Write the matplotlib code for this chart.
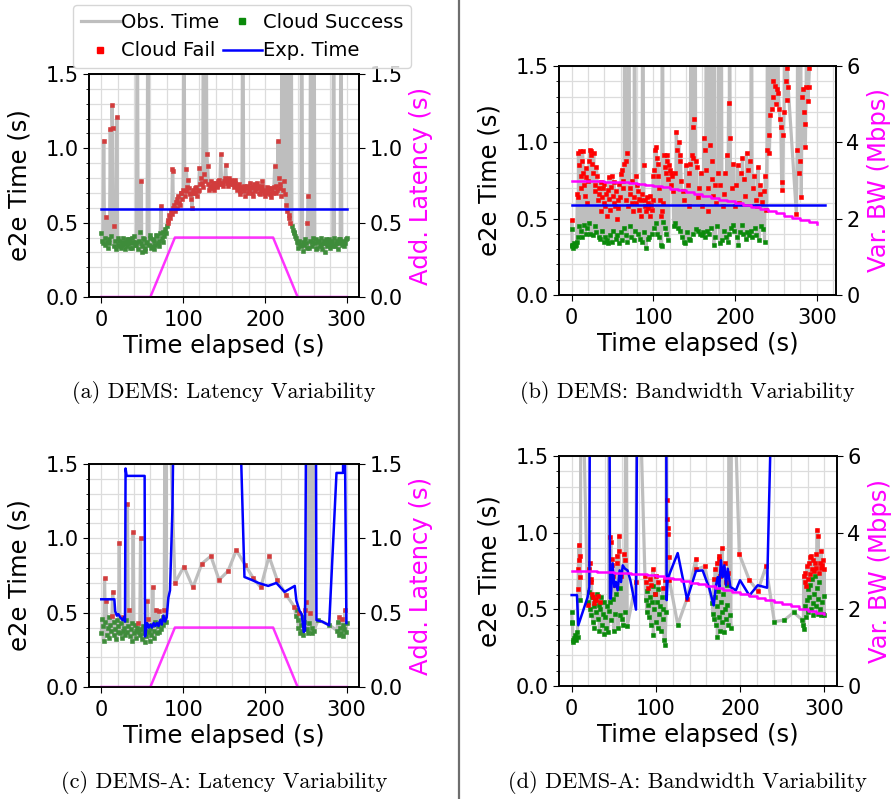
import matplotlib
matplotlib.use('Agg')
import matplotlib.pyplot as plt
from matplotlib.lines import Line2D
from matplotlib.ticker import MultipleLocator, FormatStrFormatter

# ---------------- data ----------------
# (a) DEMS latency variability: (time, e2e) for cloud success / cloud fail (2.5 = off-scale)
a_ok = [(0,.43),(1,.38),(2,.36),(4,.40),(5,.35),(7,.37),(8,.33),(9,.39),(10,.36),(12,.41),(15,.34),(17,.38),(18,.32),(20,.35),(21,.40),(22,.38),(23,.34),(24,.33),(25,.37),(26,.40),(27,.35),(28,.36),(29,.32),(30,.37),(31,.39),(32,.34),(33,.36),(34,.39),(35,.33),(36,.36),(37,.40),(38,.33),(39,.37),(40,.41),(41,.35),(42,.37),(43,.35),(45,.32),(46,.38),(47,.44),(48,.36),(49.5,.30),(50,.34),(51,.40),(52,.39),(53,.33),(54,.31),(55,.36),(56,.37),(58,.35),(59,.42),(60,.40),(61,.33),(62,.34),(63,.39),(64,.38),(65,.32),(66,.35),(67,.42),(68,.41),(69,.36),(70,.38),(71,.34),(72,.43),(74,.40),(75,.37),(76,.44),(77,.41),(78,.46),(79,.43),(80,.48),
        (233,.48),(234,.45),(235,.43),(236,.44),(237,.41),(238,.40),(239,.37),(240,.36),(241,.33),(242,.38),(243,.35),(244,.34),(246,.37),(247,.31),(248,.35),(249,.39),(250,.36),(251,.33),(254,.33),(255,.38),(257,.37),(258,.34),(259,.40),(261,.36),(262,.39),(263,.32),(264,.33),(265,.38),(266,.37),(267,.34),(268,.35),(269,.40),(270,.32),(271,.36),(272,.38),(273,.30),(274,.36),(275,.39),(276,.34),(277,.37),(278,.39),(279,.33),(280,.35),(281,.38),(282,.37),(283,.34),(285,.40),(286,.34),(287,.36),(288,.38),(289,.32),(290,.36),(291,.39),(292,.39),(294,.35),(295,.37),(296,.38),(297,.34),(298,.36),(299,.39),(300,.40)]
a_fail = [(3,1.05),(6,.54),(11,1.13),(13,1.29),(14,1.14),(16,.48),(19,1.21),(44,2.5),(49,.78),(57,2.5),(73,.61),(81,.52),(82,.50),(83,.55),(84,.53),(85,.58),(86,.56),(87,.86),(87.5,.85),(88,.60),(89,.62),(90,.58),(91,.64),(92,.60),(93,.66),(94,.68),(95,.63),(96,.62),(97,.70),(98,.70),(99,.66),(100,.72),(101,2.5),(102,.68),(103,.71),(104,.86),(105,.74),(106,.79),(107,.73),(108,.70),(109,.69),(110,.66),(111,.60),(112,.72),(113,.70),(114,.70),(115,.73),(116,.74),(117,.68),(118,.71),(119,.72),(120,.87),(121,.76),(122,.80),(123,.77),(124,.74),(125,2.5),(126,.83),(127,.78),(128,2.5),(129,.96),(130,.88),(131,.76),(132,.72),(133,.75),(134,.78),(135,.73),(136,.75),(137,.77),(138,.72),(139,.76),(140,.77),(141,.75),(142,.74),(143,.78),(144,.79),(145,.76),(146,.96),(147,.77),(148,.76),(149,.75),(150,.78),(151,.80),(152,.89),(153,.79),(154,.77),(155,.75),(156,.80),(157,.78),(158,.76),(159,.79),(160,.78),(161,.76),(162,.74),(163,.77),(164,.79),(165,.75),(166,.72),(167,.74),(168,.76),(169,.71),(170,.69),(171,.73),(172,.74),(173,2.5),(174,.71),(175,.75),(176,.68),(177,.73),(178,.75),(179,.70),(180,.72),(181,.74),(182,.77),(183,.73),(184,.70),(185,.68),(186,.74),(187,.76),(188,.71),(189,.73),(190,.77),(191,.75),(192,.73),(193,.70),(194,.69),(195,.72),(196,.75),(197,.78),(198,.72),(199,.70),(200,.68),(201,.71),(202,.74),(203,.70),(204,.71),(205,.73),(206,.69),(207,.67),(208,.73),(209,.71),(210,.70),(211,.74),(212,.88),(213,.75),(214,.70),(215,.72),(216,1.05),(217,.80),(218,.73),(219,.76),(220,.68),(221,2.5),(222,.72),(223,.78),(224,2.5),(225,.69),(226,.62),(227,.58),(228,2.5),(229,.55),(230,.53),(231,.50),(232,2.5),(245,2.5),(252,.50),(253,.68),(256,2.5),(260,2.5),(284,2.5),(293,2.5)]
a_exp = [(0,.59),(300,.59)]

# (b) DEMS bandwidth variability
b_ok = [(0,.43),(0.5,.32),(1,.33),(1.5,.31),(2,.33),(3,.34),(4,.32),(5,.33),(6,.35),(8,.38),(9,.45),(11,.42),(13,.38),(15,.46),(17,.40),(19,.44),(21,.47),(23,.40),(26,.39),(28,.45),(30,.41),(33,.38),(35,.37),(37,.42),(39,.35),(41,.38),(43,.36),(45,.34),(47,.39),(49,.35),(51,.42),(54,.37),(56,.39),(58,.34),(60,.41),(62,.36),(64,.44),(66,.39),(68,.35),(71,.45),(73,.38),(76,.36),(78,.42),(81,.40),(84,.37),(86,.35),(89,.41),(91,.31),(93,.37),(95,.38),(98,.40),(101,.44),(103,.47),(105,.40),(107,.38),(109,.33),(110,.32),(112,.48),(114,.44),(116,.40),(118,.36),(125,.45),(127,.47),(130,.44),(132,.42),(135,.38),(137,.35),(139,.34),(141,.41),(143,.37),(145,.36),(148,.40),(152,.43),(155,.42),(157,.40),(159,.39),(161,.41),(163,.38),(166,.42),(168,.40),(171,.44),(174,.33),(176,.38),(178,.45),(181,.34),(184,.36),(187,.42),(189,.38),(191,.35),(193,.40),(195,.44),(197,.46),(199,.42),(202,.38),(204,.33),(206,.41),(208,.46),(210,.40),(213,.37),(215,.41),(217,.39),(219,.42),(221,.38),(224,.44),(226,.39),(229,.36),(232,.45),(234,.43),(236,.35)]
b_fail = [(0.2,.49),(7,.66),(7.5,.64),(8.3,.93),(9.3,.85),(10,.94),(11.3,.78),(12,.70),(12.5,.88),(13.3,.94),(14,.80),(15.3,.72),(16,.65),(17.3,.83),(18,.77),(19.3,.60),(20,.75),(21.3,.88),(22,.95),(23.3,.92),(24,.94),(25,.86),(26.3,.80),(27,.93),(28.3,.72),(29,.68),(30.3,.84),(31,.78),(32,.62),(33.3,.70),(34,.66),(35.3,.74),(36,.55),(37.3,.64),(38,.70),(39.3,.60),(40,.73),(41.3,.58),(42,.66),(43.3,.52),(44,.69),(45.3,.77),(46,.63),(47.3,.56),(48,.71),(49.3,.78),(50,.65),(51.3,.60),(52,.74),(53,.58),(54.3,.68),(55,.50),(56.3,.62),(57,.57),(58.3,.73),(59,.64),(60.3,.79),(61,.82),(62.3,.70),(63,.75),(64.3,.86),(65,2.5),(66,.62),(67,.88),(68,.93),(69,.58),(70,2.5),(71.3,.66),(72,.70),(73.3,.60),(74,.75),(75,.55),(76.3,.64),(77,2.5),(78.3,.78),(79,.60),(80,.72),(81.3,.68),(82,.56),(83,.63),(84.3,.62),(85,.52),(86.3,.66),(87,2.5),(88,.85),(89.3,.58),(90,.62),(91.3,.55),(92,.64),(93.3,.60),(94,.57),(95.3,.52),(96,.65),(97,.59),(98.3,.56),(99,.62),(100,.78),(101.3,.82),(102,.95),(103.3,.97),(104,.90),(105.3,.86),(106,.78),(107.3,.70),(108,.62),(109.3,.52),(110.3,.55),(111,2.5),(112.3,.60),(113,.92),(114.3,.84),(115,.80),(116.3,.92),(117,.88),(118.3,.76),(119,.85),(120,.82),(121,.80),(122,.72),(123,.78),(124,.68),(126,.80),(128,1.07),(129,.95),(131,1.00),(132.3,.88),(133,.92),(134,.75),(136,.68),(138,.62),(140,.85),(142,.72),(143.3,.58),(144,.80),(145.3,.86),(146,2.5),(147,.92),(148.3,1.10),(149,.90),(150,1.15),(151,2.5),(152.3,.88),(153,.84),(154,.64),(156,.70),(158,.80),(160,.58),(162,1.03),(163.3,.95),(164,.82),(165,2.5),(166.3,.70),(167,.55),(169,.98),(170,2.5),(171.3,.88),(172,.76),(173,.65),(174.3,2.5),(175,.72),(177,.60),(179,.80),(180,2.5),(182,.72),(183,2.5),(185,.58),(186,.66),(188,.80),(190,.92),(192,1.26),(193,2.5),(194,1.03),(196,.70),(198,.86),(200,.58),(201,.72),(203,.85),(205,.60),(207,.80),(209,.90),(211,.76),(212,.65),(214,.93),(216,.82),(218,.88),(220,2.5),(222,.70),(223,.78),(225,.62),(227,.58),(228,.84),(230,.66),(231,.72),(233,.61),(235,.68),
          (237,.78),(238,.56),(239,.95),(240,2.5),(241,1.05),(242,.93),(243,1.18),(244,2.5),(245,1.22),(246,1.40),(247,1.30),(248,2.5),(249,1.37),(250,1.25),(251,1.35),(252,2.5),(253,1.32),(254,1.22),(255,1.15),(256,1.10),(257,.74),(258,.69),(259,1.05),(260,1.20),(261,2.5),(262,1.40),(263,1.28),(264,1.49),(265,1.36),
          (275,.53),(276,.95),(277,2.5),(278,.80),(279,.88),(280,2.5),(281,.64),(282,1.30),(283,1.35),(284,1.20),(285,1.12),(286,.97),(287,1.36),(288,2.5),(289,1.27),(290,1.36),(291,1.49)]
b_exp = [(0,.59),(310,.59)]

# (c) DEMS-A latency variability
c_ok = [(0,.36),(1,.46),(2,.41),(3,.31),(5,.44),(7,.35),(8,.40),(9,.47),(10,.33),(11,.42),(12,.38),(15,.35),(16,.44),(17,.39),(18,.32),(19,.45),(20,.37),(21,.41),(23,.36),(24,.43),(25,.33),(27,.38),(28,.40),(29,.35),(30,.45),(31,.37),(33,.41),(35,.34),(36,.39),(37,.43),(38,.31),(40,.36),(41,.42),(42,.38),(43,.33),(44,.40),(46,.37),(47,.35),(49,.39),(50,.32),(51,.41),(52,.36),(53,.30),(54,.38),(55,.34),(58,.37),(59,.31),(60,.40),(61,.35),(62,.42),(64,.38),(65,.33),(66,.44),(68,.36),(69,.41),(71,.37),(72,.43),(73,.39),(74,.45),(75,.42),(76,.47),(79,.44),
        (238,.48),(239,.52),(240,.45),(241,.40),(243,.36),(244,.42),(245,.38),(246,.47),(247,.35),(248,.44),(251,.39),(253,.36),(254,.43),(257,.40),(258,.36),(260,.38),(265,.45),(278,.42),
        (288,.38),(289,.44),(290,.35),(292,.40),(293,.36),(295,.42),(296,.34),(297,.39),(299,.37),(300,.43)]
c_fail = [(4,.73),(6,.58),(13,.48),(14,.64),(22,.97),(26,.47),(32,1.23),(34,.52),(39,1.04),(45,.43),(48,1.00),(56,.58),(57,.46),(63,.67),(67,.52),(70,.51),(77,.52),(78,2.5),(80,2.5),
          (90,.70),(101,.81),(112,.67),(123,.83),(134,.88),(144,.72),(155,.78),(165,.92),(176,.82),(186,.73),(195,.67),(205,.88),(215,.72),(226,.62),(236,.54),
          (242,.50),(249,.52),(250,.57),(252,2.5),(255,.50),(256,2.5),(259,2.5),(291,.47),(294,.46),(298,.52)]
c_exp = [(0,.59),(16,.59),(17,.51),(19,.48),(21,.49),(23,.47),(26,.45),(28,.47),(29,.44),(29.7,1.47),(31,1.42),(53,1.42),(53.5,.34),(56,.43),(58,.40),(60,.42),(62,.40),(64,.43),(66,.41),(68,.43),(70,.41),(72,.45),(74,.42),(76,.48),(78,.44),(80,.47),(82,.60),(84,.65),(87,1.2),(90,2.5),
         (166,2.5),(175,.74),(184,.72),(192,.70),(204,.68),(214,.70),(224,.64),(236.5,.68),(238.5,.58),(242.5,.51),(245,.49),(247.5,.37),(249,.38),(251,2.5),(262,2.5),(263,.45),(270,.44),(278.5,.415),(287.5,1.44),(295.5,1.44),(296.5,2.5),(299.6,.43)]

# (d) DEMS-A bandwidth variability
d_ok = [(0,.48),(0.5,.42),(1,.41),(1.5,.30),(2,.29),(3,.31),(4,.33),(5,.30),(6,.35),(7,.32),(10,.56),
        (20,.55),(21,.61),(22,.50),(23,.46),(24,.58),(25,.42),(26,.52),(27,.38),(28,.56),(29,.48),(30,.60),(31,.44),(32,.53),(33,.36),(34,.50),(35,.58),(36,.40),(37,.47),(38,.34),(39,.55),(40,.45),(41,.38),(42,.52),(43,.35),(44,.49),(46,.55),(47,.43),(49,.57),(50,.36),(52,.47),(53,.60),(55,.38),(57,.64),(58,.46),(60,.44),(61,.40),(63,.48),(66,.39),
        (88,.56),(89,.48),(90,.62),(91,.53),(92,.45),(93,.58),(94,.40),(95,.55),(96,.65),(97,.33),(98,.50),(99,.60),(100,.42),(101,.55),(102,.38),(103,.63),(104,.47),(105,.52),(106,.36),(107,.58),(108,.44),(109,.50),(110,.30),(111,.27),(112,.48),
        (126,.40),
        (167,.54),(168,.47),(169,.44),(170,.58),(171,.40),(172,.52),(173,.32),(174,.62),(175,.45),(176,.36),(177,.55),(178,.48),(179,.42),(180,.60),(181,.35),(182,.50),(183,.44),(184,.66),(185,.53),(186,.40),(188,.46),(189,.38),
        (240.6,.42),(252.5,.43),(263.6,.48),(274,.43),
        (275,.40),(276,.37),(277,.52),(278,.45),(279,.56),(280,.63),(281,.48),(282,.58),(283,.66),(284,.50),(285,.70),(286,.54),(287,.46),(288,.60),(289,.72),(290,.52),(291,.64),(292,.47),(293,.57),(294,.68),(295,.50),(296,.46),(297,.55),(298,.47),(299,.59),(300,.46)]
d_fail = [(7.5,.63),(8,.76),(8.5,.92),(9,.82),(9.5,.85),(10.5,.71),(11,2.5),
          (19,.53),(20.5,.76),(21.5,.80),(22.5,.70),(23.5,.68),(24.5,.60),(25.5,.58),(26.5,.54),(27.5,.57),(29.5,.56),(31.5,.59),(33.5,.55),
          (44.5,2.5),(45,.97),(46.5,.94),(47.5,.83),(48,.79),(49.5,.72),(51,.66),(53.5,.85),(54,.80),(56,.98),(56.5,.88),(59,.72),(62,.86),(63.5,.82),(64.5,2.5),(76.4,.68),(78,2.5),
          (87,.72),(88.5,.68),(90.5,.64),(92.5,.70),(94.5,.66),(96.5,.76),(98.5,.60),(100.5,.72),(102.5,.68),(108.5,.64),(110.5,.69),
          (112.5,2.5),(113,1.21),(113.5,1.09),(114,1.03),(114.5,.99),(115,.84),(116,.69),
          (137,.57),(147.6,.83),(148,.76),(158,.78),
          (168.5,.70),(170.5,.76),(172.5,.80),(174.5,.85),(175.5,.83),(176.5,.72),(178.5,.90),(179.5,.76),(181.5,.80),(183.5,.68),(185.5,.74),(187,2.5),(190,2.5),
          (199,.86),(211,.69),(221,.62),(230.7,.78),
          (275.5,.72),(276.5,.68),(277.5,.74),(278.5,.65),(279.5,.78),(280.5,.70),(281.5,.80),(282.5,.84),(283.5,.73),(284.5,.85),(285.5,.76),(286.5,.82),(287.5,.75),(288.5,.80),(289.5,.77),(290.5,.86),(291.5,1.02),(292.5,.98),(293.5,.74),(294.5,.80),(295.5,.77),(296.5,.88),(297.5,.79),(298.5,.82),(299.5,.76)]
d_exp = [(0,.593),(6.3,.593),(7.9,.396),(19,.58),(21,.646),(22,2.5),(44.7,2.5),(45.5,.57),(46.5,.57),(48.7,.80),(50.7,.646),(52.6,.678),(54.6,.624),(57,.754),(58.6,.678),(60.6,.787),(63.3,.765),(66.4,.754),(69.7,.69),(76.4,.498),(78.4,2.5),(112,2.5),(112.8,.56),(114,.70),(125.9,.867),(137,.565),(147.6,.75),(155.5,.754),(163.5,.635),(168.6,.526),(171.4,.657),(173.4,.71),(175.3,.646),(177.3,.82),(179.3,.71),(181.3,.787),(183.3,.657),(185.3,.765),(188.4,.646),(195,.624),(199.9,.69),(211,.59),(220.9,.657),(232,.641),(240,2.5),(300,2.5)]

# injected variability
lat_t = [0, 60, 90, 210, 240, 300]
lat_v = [0, 0, 0.4, 0.4, 0, 0]
bw_t = [0,10,20,30,40,50,60,70,80,90,100,110,120,130,140,150,160,170,180,190,200,210,220,230,240,250,260,270,280,290,300]
bw_v = [3.0,3.0,2.99,2.98,2.97,2.96,2.95,2.93,2.91,2.89,2.86,2.82,2.78,2.74,2.70,2.65,2.60,2.55,2.50,2.45,2.40,2.35,2.30,2.25,2.20,2.14,2.08,2.02,1.96,1.90,1.87]

captions = ["(a) DEMS: Latency Variability", "(b) DEMS: Bandwidth Variability",
            "(c) DEMS-A: Latency Variability", "(d) DEMS-A: Bandwidth Variability"]

# ---------------- drawing ----------------
W, H = 896, 799
fig = plt.figure(figsize=(W / 100, H / 100), dpi=100)

def rect(l, t, r, b):
    return [l / W, 1 - b / H, (r - l) / W, (b - t) / H]

GRAY = '#bebebe'
MS = 3.5

def panel(box, ok, fail, exp, vt, vv, vlim, vticks, vlabel, xlim, red, green, step):
    ax = fig.add_axes(box)
    pts = sorted(ok + fail)
    ax.plot([p[0] for p in pts], [p[1] for p in pts], color=GRAY, lw=2.3, zorder=2)
    ax.plot([p[0] for p in ok], [p[1] for p in ok], 's', color=green, ms=MS, mew=0.4, zorder=3)
    ax.plot([p[0] for p in fail], [p[1] for p in fail], 's', color=red, ms=MS, mew=0.4, zorder=3)
    ax.plot([p[0] for p in exp], [p[1] for p in exp], color='blue', lw=1.8, zorder=4)
    ax.set_xlim(*xlim)
    ax.set_ylim(0, 1.5)
    ax.set_xticks([0, 100, 200, 300])
    ax.set_yticks([0, 0.5, 1.0, 1.5])
    ax.yaxis.set_major_formatter(FormatStrFormatter('%.1f'))
    ax.xaxis.set_minor_locator(MultipleLocator(20))
    ax.yaxis.set_minor_locator(MultipleLocator(0.1))
    ax.tick_params(axis='x', which='minor', length=0)
    ax.tick_params(axis='y', which='minor', length=2.5)
    ax.tick_params(which='major', labelsize=15, length=4)
    ax.tick_params(axis='x', which='major', pad=5.5)
    ax.grid(which='both', color='#dcdcdc', lw=0.9, zorder=0)
    ax.set_axisbelow(True)
    ax.set_xlabel('Time elapsed (s)', fontsize=17.5, labelpad=3)
    ax.set_ylabel('e2e Time (s)', fontsize=17.5, labelpad=10)
    for s in ax.spines.values():
        s.set_linewidth(1.2)
    ax2 = ax.twinx()
    ax2.plot(vt, vv, color='magenta', lw=1.8, alpha=0.8 if not step else 1.0,
             drawstyle='steps-post' if step else 'default')
    ax2.set_ylim(*vlim)
    ax2.set_yticks(vticks)
    ax2.tick_params(labelsize=15, length=4)
    ax2.set_ylabel(vlabel, fontsize=17.5, color='magenta', labelpad=5)
    for s in ax2.spines.values():
        s.set_linewidth(1.2)
    return ax, ax2

lat_ticks = [0, 0.5, 1.0, 1.5]
ax_a, ax_a2 = panel(rect(89, 74, 359, 297), a_ok, a_fail, a_exp, lat_t, lat_v, (0, 1.5), lat_ticks,
                    'Add. Latency (s)', (-15, 315), '#d23c3c', '#3e8c3a', False)
ax_b, ax_b2 = panel(rect(559, 66, 836, 295), b_ok, b_fail, b_exp, bw_t, bw_v, (0, 6), [0, 2, 4, 6],
                    'Var. BW (Mbps)', (-15.5, 323.5), '#ff0000', '#0a8a0a', True)
ax_c, ax_c2 = panel(rect(89, 464, 359, 687), c_ok, c_fail, c_exp, lat_t, lat_v, (0, 1.5), lat_ticks,
                    'Add. Latency (s)', (-15, 315), '#d23c3c', '#3e8c3a', False)
ax_d, ax_d2 = panel(rect(559, 456, 837, 686), d_ok, d_fail, d_exp, bw_t, bw_v, (0, 6), [0, 2, 4, 6],
                    'Var. BW (Mbps)', (-15, 315), '#ff0000', '#0a8a0a', True)
for a2 in (ax_a2, ax_c2):
    a2.yaxis.set_major_formatter(FormatStrFormatter('%.1f'))

# captions
cap_pos = [(224, 393), (687, 393), (224, 783), (687, 783)]
for txt, (x, y) in zip(captions, cap_pos):
    fig.text(x / W, 1 - y / H, txt, ha='center', va='center', fontsize=16, family='cmr10')

# separator line
fig.add_artist(Line2D([459 / W, 459 / W], [0, 1], color='#6e6e6e', lw=1.6))

# legend
handles = [Line2D([], [], color=GRAY, lw=2.3),
           Line2D([], [], ls='none', marker='s', color='#ff0000', ms=4),
           Line2D([], [], ls='none', marker='s', color='#0a8a0a', ms=4),
           Line2D([], [], color='blue', lw=1.8)]
labels = ['Obs. Time', 'Cloud Fail', 'Cloud Success', 'Exp. Time']
fig.legend(handles, labels, ncol=2, loc='upper left', bbox_to_anchor=(73 / W, 1 - 5 / H),
           borderaxespad=0, fontsize=14, handlelength=2.0, handletextpad=0.05, columnspacing=0.2,
           borderpad=0.4, labelspacing=0.5, framealpha=0.8, edgecolor='#cccccc')

fig.savefig('out.png', dpi=100)
